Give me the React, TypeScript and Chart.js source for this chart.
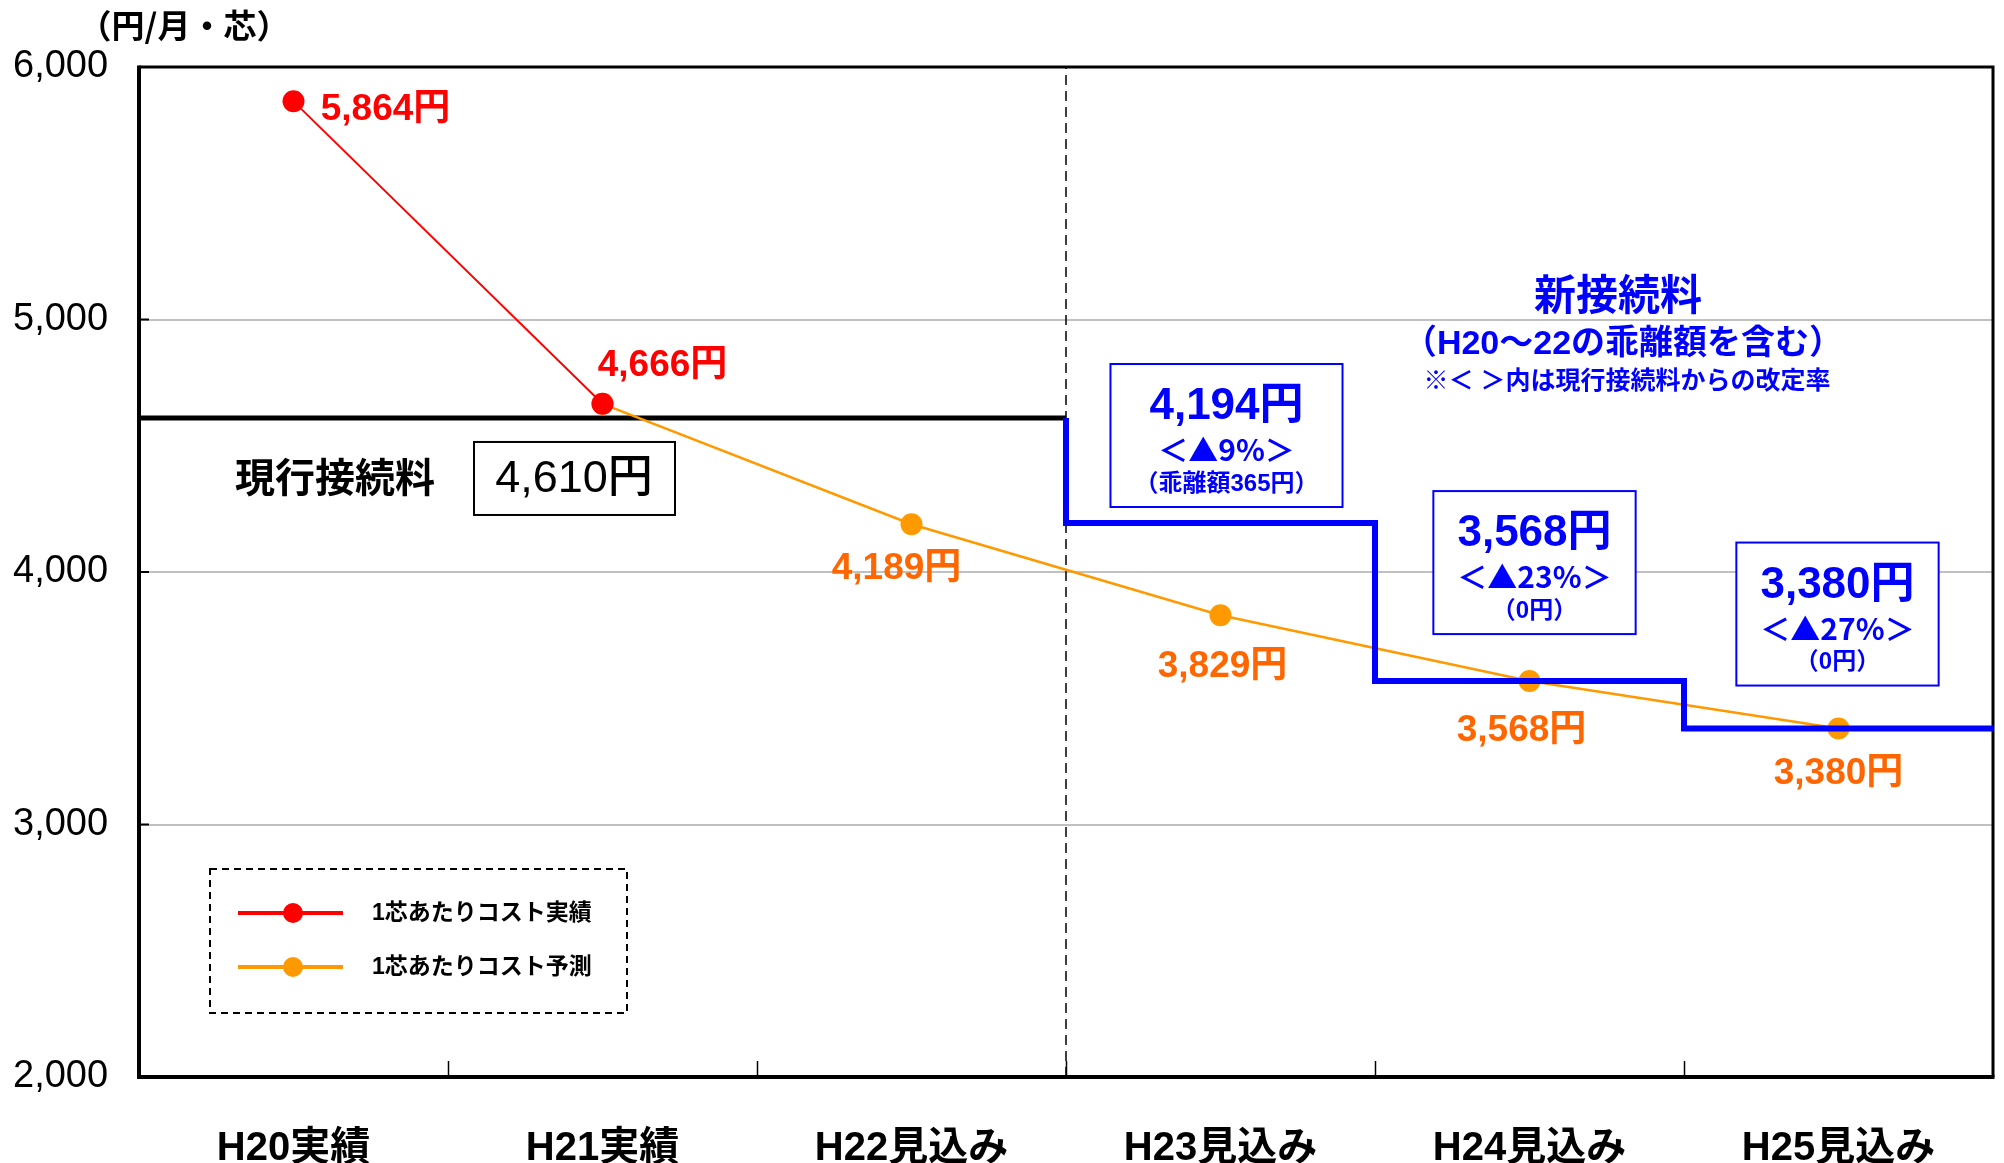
import React, { useEffect, useRef } from "react";
import { Chart, registerables } from "chart.js";

Chart.register(...registerables);

// ---- data ----
const categories = ["H20実績", "H21実績", "H22見込み", "H23見込み", "H24見込み", "H25見込み"];
const actualCost = [5864, 4666, null, null, null, null];
const forecastCost = [null, 4666, 4189, 3829, 3568, 3380];
const currentRate = 4610;
const currentRateSpan = [0, 3];
const newRateBoundaries = [3, 4, 5, 6];
const newRateLevels = [4610, 4194, 3568, 3380];
const newRateChange = ["＜▲9%＞", "＜▲23%＞", "＜▲27%＞"];
const newRateDivergence = ["（乖離額365円）", "（0円）", "（0円）"];
const yTickValues = [2000, 3000, 4000, 5000, 6000];
const dividerAt = 3;

const FONT = '"Liberation Sans", "Noto Sans CJK JP", sans-serif';
const CJK = '"Noto Sans CJK JP", "Liberation Sans", sans-serif';
const RED = "#ff0000";
const ORANGE = "#ff9900";
const ORANGE_TEXT = "#ff6600";
const BLUE = "#0000ff";

const yen = (v: number) => v.toLocaleString("en-US") + "円";

// label placement (pixel offsets from the points)
const actualLabelOffsets: ([number, number] | null)[] = [[92, 8], [60, -38]];
const forecastLabelOffsets: ([number, number] | null)[] = [null, null, [-15, 45], [2, 52], [-8, 50], [0, 45]];
const boxDx = [6, 5, -1];
const boxGap = [16, 47, 43];

const annotationPlugin = {
  id: "annotations",
  beforeDatasetsDraw(chart: any) {
    const { ctx, chartArea: a } = chart;
    const x2 = chart.scales.x2;
    const y = chart.scales.y;
    ctx.save();
    ctx.strokeStyle = "#000";
    // frame
    ctx.lineWidth = 3;
    ctx.beginPath();
    ctx.moveTo(a.left, a.top);
    ctx.lineTo(a.right, a.top);
    ctx.lineTo(a.right, a.bottom);
    ctx.stroke();
    ctx.lineWidth = 4;
    ctx.beginPath();
    ctx.moveTo(a.left, a.top - 1.5);
    ctx.lineTo(a.left, a.bottom);
    ctx.lineTo(a.right + 1.5, a.bottom);
    ctx.stroke();
    // inward ticks on x
    ctx.lineWidth = 1.5;
    for (let i = 1; i < categories.length; i++) {
      const px = Math.round(x2.getPixelForValue(i)) + 0.5;
      ctx.beginPath();
      ctx.moveTo(px, a.bottom);
      ctx.lineTo(px, a.bottom - 16);
      ctx.stroke();
    }
    // inward ticks on y
    ctx.lineWidth = 2;
    yTickValues.forEach((v) => {
      if (v === 2000 || v === 6000) return;
      const py = y.getPixelForValue(v);
      ctx.beginPath();
      ctx.moveTo(a.left, py);
      ctx.lineTo(a.left + 10, py);
      ctx.stroke();
    });
    ctx.restore();
  },
  afterDatasetsDraw(chart: any) {
    const { ctx, chartArea: a } = chart;
    const x = chart.scales.x;
    const y = chart.scales.y;
    ctx.save();
    ctx.textAlign = "center";
    ctx.textBaseline = "middle";

    // unit label
    ctx.fillStyle = "#000";
    ctx.font = `bold 33px ${CJK}`;
    ctx.fillText("（円/月・芯）", 184, 25);

    // data labels
    ctx.font = `bold 37px ${FONT}`;
    const redMeta = chart.getDatasetMeta(1);
    const orMeta = chart.getDatasetMeta(2);
    actualCost.forEach((v, i) => {
      const off = actualLabelOffsets[i];
      if (v == null || !off) return;
      const p = redMeta.data[i];
      ctx.fillStyle = RED;
      ctx.fillText(yen(v), p.x + off[0], p.y + off[1]);
    });
    forecastCost.forEach((v, i) => {
      const off = forecastLabelOffsets[i];
      if (v == null || !off) return;
      const p = orMeta.data[i];
      ctx.fillStyle = ORANGE_TEXT;
      ctx.fillText(yen(v), p.x + off[0], p.y + off[1]);
    });

    // current rate label + box
    const lineY = y.getPixelForValue(currentRate);
    ctx.fillStyle = "#000";
    ctx.font = `bold 40px ${FONT}`;
    ctx.fillText("現行接続料", a.left + 196, lineY + 63);
    ctx.font = `500 45px ${FONT}`;
    const bx = a.left + 335;
    const by = lineY + 24;
    ctx.strokeStyle = "#000";
    ctx.lineWidth = 2;
    ctx.strokeRect(bx, by, 201, 73);
    ctx.fillText(yen(currentRate), bx + 100, by + 38);

    // header (new rate)
    ctx.fillStyle = BLUE;
    ctx.font = `bold 42px ${FONT}`;
    ctx.fillText("新接続料", 1618, 298);
    ctx.font = `bold 34px ${FONT}`;
    ctx.fillText("（H20～22の乖離額を含む）", 1623, 345);
    ctx.font = `bold 25px ${FONT}`;
    ctx.fillText("※＜ ＞内は現行接続料からの改定率", 1627, 382);

    // blue boxes
    for (let i = 0; i < 3; i++) {
      const cx = x.getPixelForValue(3 + i) + boxDx[i];
      const levelY = y.getPixelForValue(newRateLevels[i + 1]);
      const bottom = levelY - boxGap[i];
      const top = bottom - 143;
      const l1 = yen(newRateLevels[i + 1]);
      ctx.font = `bold 44px ${FONT}`;
      const w1 = ctx.measureText(l1).width;
      ctx.font = `bold 30px ${CJK}`;
      const w2 = ctx.measureText(newRateChange[i]).width;
      ctx.font = `bold 24px ${FONT}`;
      const w3 = ctx.measureText(newRateDivergence[i]).width;
      const w = Math.max(w1, w2, w3) + 48;
      ctx.fillStyle = "#fff";
      ctx.fillRect(cx - w / 2, top, w, 143);
      ctx.strokeStyle = BLUE;
      ctx.lineWidth = 2;
      ctx.strokeRect(cx - w / 2, top, w, 143);
      ctx.fillStyle = BLUE;
      ctx.font = `bold 44px ${FONT}`;
      ctx.fillText(l1, cx, top + 43);
      ctx.font = `bold 30px ${CJK}`;
      ctx.fillText(newRateChange[i], cx, top + 86);
      ctx.font = `bold 24px ${FONT}`;
      ctx.fillText(newRateDivergence[i], cx, top + 120);
    }

    // legend
    const lx = a.left + 71;
    const ly = a.bottom - 208;
    ctx.strokeStyle = "#000";
    ctx.lineWidth = 2;
    ctx.setLineDash([7, 5]);
    ctx.strokeRect(lx, ly, 417, 144);
    ctx.setLineDash([]);
    const entries = [chart.data.datasets[1], chart.data.datasets[2]];
    entries.forEach((ds: any, k: number) => {
      const ey = ly + 44 + k * 54;
      ctx.strokeStyle = ds.borderColor;
      ctx.lineWidth = 4;
      ctx.beginPath();
      ctx.moveTo(lx + 28, ey);
      ctx.lineTo(lx + 133, ey);
      ctx.stroke();
      ctx.fillStyle = ds.pointBackgroundColor;
      ctx.beginPath();
      ctx.arc(lx + 83, ey, 10, 0, Math.PI * 2);
      ctx.fill();
      ctx.fillStyle = "#000";
      ctx.font = `bold 23px ${FONT}`;
      ctx.textAlign = "left";
      ctx.fillText(ds.label, lx + 162, ey + 1);
      ctx.textAlign = "center";
    });
    ctx.restore();
  },
};

export default function App() {
  const ref = useRef<HTMLCanvasElement | null>(null);
  useEffect(() => {
    if (!ref.current) return;
    const chart = new Chart(ref.current, {
      type: "line",
      data: {
        labels: categories,
        datasets: [
          {
            label: "新接続料",
            xAxisID: "x2",
            data: newRateBoundaries.map((b, i) => ({ x: b, y: newRateLevels[i] })),
            stepped: "after",
            borderColor: BLUE,
            borderWidth: 6,
            pointRadius: 0,
            borderJoinStyle: "miter",
            fill: false,
          } as any,
          {
            label: "1芯あたりコスト実績",
            data: actualCost,
            borderColor: RED,
            backgroundColor: RED,
            pointBackgroundColor: RED,
            pointBorderColor: RED,
            borderWidth: 2,
            pointRadius: 11,
            pointBorderWidth: 0,
          },
          {
            label: "1芯あたりコスト予測",
            data: forecastCost,
            borderColor: ORANGE,
            backgroundColor: ORANGE,
            pointBackgroundColor: ORANGE,
            pointBorderColor: ORANGE,
            borderWidth: 2.5,
            pointRadius: 11,
            pointBorderWidth: 0,
          },
          {
            label: "現行接続料",
            xAxisID: "x2",
            data: currentRateSpan.map((b) => ({ x: b, y: currentRate })),
            borderColor: "#000",
            borderWidth: 5,
            pointRadius: 0,
          } as any,
          {
            label: "divider",
            xAxisID: "x2",
            data: [
              { x: dividerAt, y: yTickValues[0] },
              { x: dividerAt, y: yTickValues[yTickValues.length - 1] },
            ],
            borderColor: "#000",
            borderWidth: 1.5,
            borderDash: [10, 6],
            pointRadius: 0,
          } as any,
        ],
      },
      options: {
        animation: false,
        responsive: false,
        maintainAspectRatio: false,
        layout: { padding: { top: 67, right: 10, left: 13, bottom: 0 } },
        plugins: { legend: { display: false }, tooltip: { enabled: false } },
        scales: {
          x: {
            type: "category",
            offset: true,
            grid: { display: false },
            border: { display: false },
            ticks: {
              color: "#000",
              font: { size: 40, weight: "bold", family: FONT },
              padding: 40,
              maxRotation: 0,
              autoSkip: false,
            },
            afterFit: (s: any) => {
              s.height = 86;
            },
          },
          x2: {
            type: "linear",
            min: 0,
            max: categories.length,
            display: false,
          },
          y: {
            min: yTickValues[0],
            max: yTickValues[yTickValues.length - 1],
            border: { display: false },
            afterBuildTicks: (s: any) => {
              s.ticks = yTickValues.map((v) => ({ value: v }));
            },
            grid: {
              drawTicks: false,
              lineWidth: 2,
              color: (c: any) =>
                c.tick && (c.tick.value === 2000 || c.tick.value === 6000) ? "rgba(0,0,0,0)" : "#c0c0c0",
            },
            ticks: {
              color: "#000",
              crossAlign: "far",
              font: { size: 38, family: FONT },
              callback: (v: any) => Number(v).toLocaleString("en-US"),
            },
            afterFit: (s: any) => {
              s.width = 126;
            },
          },
        },
      } as any,
      plugins: [annotationPlugin],
    });
    return () => chart.destroy();
  }, []);
  return (
    <div style={{ position: "absolute", left: 0, top: 0, width: 2004, height: 1163, background: "#fff" }}>
      <canvas ref={ref} width={2004} height={1163} style={{ width: 2004, height: 1163, display: "block" }} />
    </div>
  );
}
